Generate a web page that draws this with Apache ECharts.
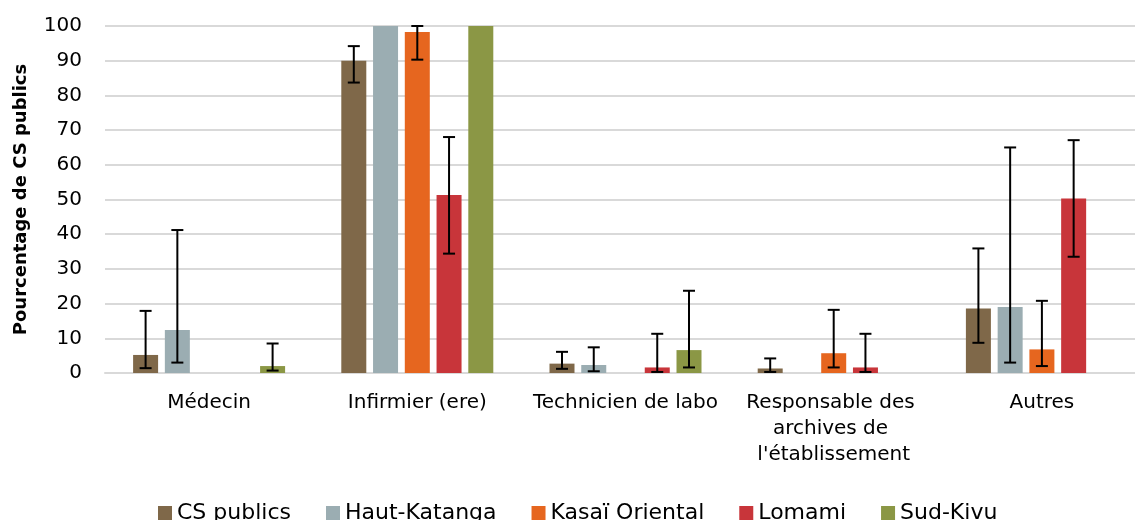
<!DOCTYPE html>
<html>
<head>
    <meta charset="utf-8">
    <title>Pourcentage de CS publics</title>
    <script src="https://cdn.jsdelivr.net/npm/echarts@6/dist/echarts.min.js"></script>
    <style>
        html, body { margin: 0; padding: 0; background: #fff; }
        #chart { width: 1135px; height: 520px; }
    </style>
</head>
<body>
<div id="chart"></div>
<script type="text/javascript">
    // categories
    var categories = ['Médecin', 'Infirmier (ere)', 'Technicien de labo', "Responsable des archives de l'établissement", 'Autres'];
    var seriesNames = ['CS publics', 'Haut-Katanga', 'Kasaï Oriental', 'Lomami', 'Sud-Kivu'];
    var yTicks = [0, 10, 20, 30, 40, 50, 60, 70, 80, 90, 100];

    // values (%) and confidence bounds (null = no error bar)
    var csPublics = [5.2, 90, 2.7, 1.3, 18.6];
    var csLow = [1.4, 83.7, 1.2, 0.3, 8.7];
    var csHigh = [17.9, 94.2, 6.1, 4.2, 35.9];

    var hautKatanga = [12.4, 100, 2.3, 0, 19];
    var hkLow = [3, null, 0.5, null, 3];
    var hkHigh = [41.2, null, 7.4, null, 65];

    var kasaiOriental = [0, 98.3, 0, 5.7, 6.8];
    var koLow = [null, 90.3, null, 1.6, 2];
    var koHigh = [null, 100, null, 18.2, 20.8];

    var lomami = [0, 51.3, 1.6, 1.6, 50.3];
    var loLow = [null, 34.4, 0.3, 0.3, 33.5];
    var loHigh = [null, 68, 11.3, 11.3, 67.1];

    var sudKivu = [2, 100, 6.6, 0, 0];
    var skLow = [0.7, null, 1.6, null, null];
    var skHigh = [8.5, null, 23.7, null, null];

    var colors = ['#7f6849', '#9badb2', '#e6661f', '#c8353a', '#8b9745'];
    var values = [csPublics, hautKatanga, kasaiOriental, lomami, sudKivu];
    var lows = [csLow, hkLow, koLow, loLow, skLow];
    var highs = [csHigh, hkHigh, koHigh, loHigh, skHigh];

    var barWidth = 25;
    var barGap = 0.27;
    var font = '"DejaVu Sans", "Liberation Sans", sans-serif';

    var series = [];
    values.forEach(function (vals, i) {
        series.push({
            name: seriesNames[i],
            type: 'bar',
            data: vals,
            barWidth: barWidth,
            barGap: (barGap * 100) + '%',
            itemStyle: {color: colors[i]}
        });
    });

    // error bars, one custom series per region
    values.forEach(function (vals, i) {
        var errData = [];
        for (var k = 0; k < categories.length; k++) {
            if (lows[i][k] != null) {
                errData.push([k, lows[i][k], highs[i][k]]);
            }
        }
        var offset = (i - (values.length - 1) / 2) * barWidth * (1 + barGap);
        series.push({
            type: 'custom',
            name: seriesNames[i] + ' err',
            data: errData,
            z: 10,
            encode: {x: 0, y: [1, 2]},
            renderItem: function (params, api) {
                var cat = api.value(0);
                var x = api.coord([cat, 0])[0] + offset;
                var yLo = api.coord([cat, api.value(1)])[1];
                var yHi = api.coord([cat, api.value(2)])[1];
                var cap = 6;
                var st = {stroke: '#000', lineWidth: 2};
                return {
                    type: 'group',
                    children: [
                        {type: 'line', shape: {x1: x, y1: yLo, x2: x, y2: yHi}, style: st},
                        {type: 'line', shape: {x1: x - cap, y1: yHi, x2: x + cap, y2: yHi}, style: st},
                        {type: 'line', shape: {x1: x - cap, y1: yLo, x2: x + cap, y2: yLo}, style: st}
                    ]
                };
            }
        });
    });

    var myChart = echarts.init(document.getElementById('chart'));
    myChart.setOption({
        animation: false,
        textStyle: {fontFamily: font},
        grid: {left: 105, right: -11, top: 26, bottom: 147, containLabel: false, outerBoundsMode: 'none'},
        legend: {
            data: seriesNames,
            left: 153,
            top: 497,
            icon: 'rect',
            itemWidth: 14,
            itemHeight: 14,
            itemGap: 35,
            textStyle: {fontSize: 22, color: '#000', fontFamily: font}
        },
        xAxis: {
            type: 'category',
            data: categories,
            axisTick: {show: false},
            axisLine: {lineStyle: {color: '#d9d9d9', width: 2}},
            axisLabel: {
                color: '#000',
                fontSize: 20,
                lineHeight: 26,
                margin: 17,
                interval: 0,
                width: 200,
                overflow: 'break',
                fontFamily: font
            }
        },
        yAxis: {
            type: 'value',
            min: yTicks[0],
            max: yTicks[yTicks.length - 1],
            interval: 10,
            name: 'Pourcentage de CS publics',
            nameLocation: 'middle',
            nameGap: 75,
            nameRotate: 90,
            nameTextStyle: {fontSize: 18, fontWeight: 'bold', color: '#000', fontFamily: font},
            axisLine: {show: false},
            axisTick: {show: false},
            axisLabel: {fontSize: 20, color: '#000', margin: 23, fontFamily: font},
            splitLine: {lineStyle: {color: '#d9d9d9', width: 2}}
        },
        series: series
    });
</script>
</body>
</html>
